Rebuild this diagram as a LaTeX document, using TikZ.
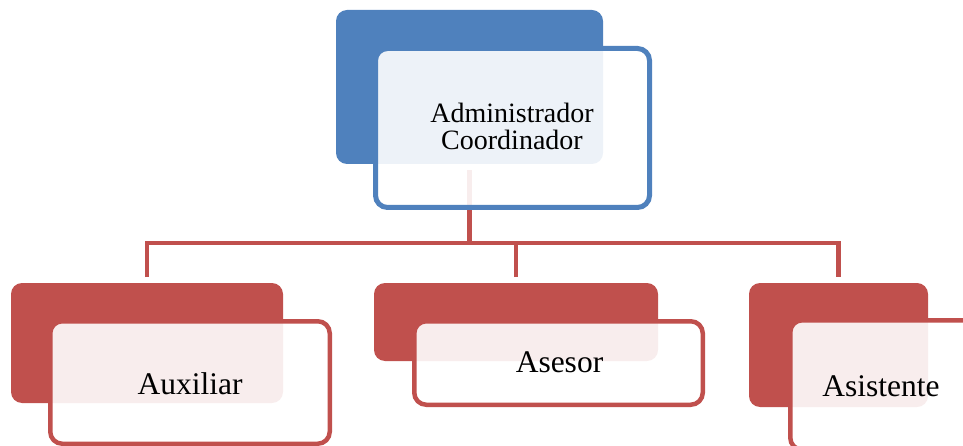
\documentclass[tikz,border=0pt]{standalone}
\usepackage{fontspec}
\setmainfont{Liberation Serif}
\definecolor{ablue}{HTML}{4F81BD}
\definecolor{ared}{HTML}{C0504D}
\begin{document}
\begin{tikzpicture}[x=1pt,y=-1pt,
  back/.style={rectangle, rounded corners=11pt, inner sep=0pt, outer sep=0pt, fill=#1},
  front/.style={rectangle, rounded corners=12pt, inner sep=0pt, outer sep=0pt, draw=#1, fill=white, fill opacity=0.9, draw opacity=1},
  conn/.style={draw=ared, line width=4.5pt},
  lbl/.style={anchor=base, inner sep=0pt, font=\fontsize{31.5}{36}\selectfont},
  toplbl/.style={anchor=base, inner sep=0pt, font=\fontsize{28}{27}\selectfont}]
\useasboundingbox (0,0) rectangle (963,446);
\clip (0,0) rectangle (963,446);
% back rectangles
\node[back=ablue, minimum width=267pt, minimum height=154pt] (tb) at (469.5,87) {};
\node[back=ared, minimum width=272pt, minimum height=120pt] (aub) at (147,343) {};
\node[back=ared, minimum width=284pt, minimum height=78pt] (asb) at (516,322) {};
\node[back=ared, minimum width=179pt, minimum height=124pt] (asib) at (838.5,345) {};
% connectors
\coordinate (bus) at (469,243);
\draw[conn] ([yshift=-6pt]tb.south) -- (tb.south |- bus);
\draw[conn] ([yshift=6pt]aub.north) |- (asib.north |- bus) -- ([yshift=6pt]asib.north);
\draw[conn] ([yshift=6pt]asb.north) -- (asb.north |- bus);
% front boxes
\node[front=ablue, line width=5pt, minimum width=274pt, minimum height=159pt] (tf) at (512.5,128) {};
\node[front=ared, line width=4.5pt, minimum width=279.5pt, minimum height=122.5pt] (auf) at (190,382.5) {};
\node[front=ared, line width=4.5pt, minimum width=288.5pt, minimum height=83.5pt] (asf) at (558.5,363) {};
\node[front=ared, line width=4.5pt, minimum width=277.5pt, minimum height=129.5pt] (asif) at (929,385) {};
% labels
\node[toplbl] (t1) at (512,123) {Administrador};
\node[toplbl] (t2) at (512,150) {Coordinador};
\node[lbl] (l1) at (190,394) {Auxiliar};
\node[lbl] (l2) at (559.5,372) {Asesor};
\node[lbl] (l3) at (881,396) {Asistente};
\end{tikzpicture}
\end{document}
